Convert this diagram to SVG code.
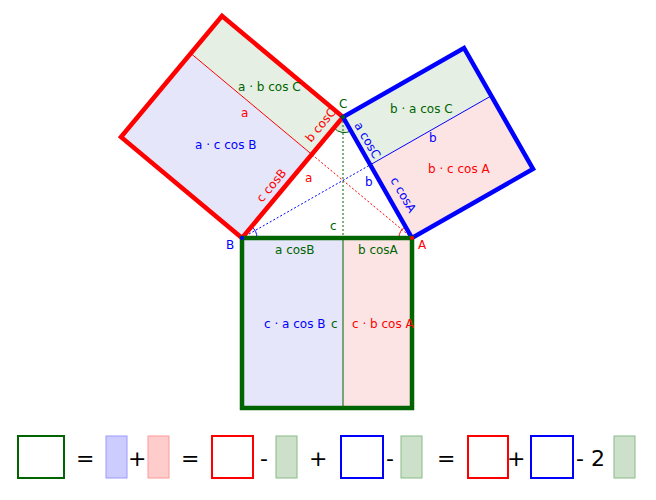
<svg xmlns="http://www.w3.org/2000/svg" width="656" height="500" viewBox="0 0 656 500">
<style>
text{font-family:"DejaVu Sans",sans-serif;font-size:12px}
.r{fill:#f00}.b{fill:#00f}.g{fill:#006400}.k{fill:#000;font-size:22px}
.thick{fill:none;stroke-width:4.5;stroke-linejoin:miter}
</style>
<rect width="656" height="500" fill="#fff"/>
<g id="fills">
<polygon points="242,238 311.8,154.4 190.8,53.4 121,137" fill="#e6e6fa"/>
<polygon points="311.8,154.4 343,117 222,16 190.8,53.4" fill="#e6efe4"/>
<polygon points="343,117 370.3,164.8 491.3,95.8 464,48" fill="#e6efe4"/>
<polygon points="370.3,164.8 412,238 533,169 491.3,95.8" fill="#fde4e4"/>
<rect x="242" y="238" width="101" height="170" fill="#e6e6fa"/>
<rect x="343" y="238" width="69" height="170" fill="#fde4e4"/>
<path d="M343,117 L334,128 A14,14 0 0 0 351,131 Z" fill="#dde8da"/>
</g>
<g id="connectors">
<line x1="311.8" y1="154.4" x2="190.8" y2="53.4" stroke="#f00" stroke-width="1"/>
<line x1="370.3" y1="164.8" x2="491.3" y2="95.8" stroke="#00f" stroke-width="1"/>
<line x1="343" y1="238" x2="343" y2="408" stroke="#006400" stroke-width="1"/>
<line x1="412" y1="238" x2="311.8" y2="154.4" stroke="#f00" stroke-width="1" stroke-dasharray="2,2"/>
<line x1="242" y1="238" x2="370.3" y2="164.8" stroke="#00f" stroke-width="1" stroke-dasharray="2,2"/>
<line x1="343" y1="117" x2="343" y2="238" stroke="#006400" stroke-width="1" stroke-dasharray="2,2"/>
<path d="M257,238 A15,15 0 0 0 251.6,226.5" fill="none" stroke="#00f"/>
<path d="M399,238 A13,13 0 0 1 405.5,226.7" fill="none" stroke="#f00"/>
<path d="M334,128 A14,14 0 0 0 351,131" fill="none" stroke="#006400"/>
</g>
<g id="squareRed"><polygon class="thick" points="242,238 343,117 222,16 121,137" stroke="#f00"/></g>
<g id="squareBlue"><polygon class="thick" points="343,117 412,238 533,169 464,48" stroke="#00f"/></g>
<g id="squareGreen"><rect class="thick" x="242" y="238" width="170" height="170" stroke="#006400"/></g>
<g id="vertices">
<circle cx="242" cy="238" r="2" fill="#00f"/>
<circle cx="412" cy="238" r="2" fill="#f00"/>
<circle cx="343" cy="117" r="2" fill="#006400"/>
</g>
<g id="labels">
<text class="g" x="238" y="91">a · b cos C</text>
<text class="r" x="241" y="117">a</text>
<text class="b" x="195" y="149">a · c cos B</text>
<text class="r" transform="translate(311,143) rotate(-50)">b cosC</text>
<text class="r" transform="translate(262,203) rotate(-50)">c cosB</text>
<text class="r" x="305" y="182">a</text>
<text class="g" x="339" y="108">C</text>
<text class="b" x="226" y="249">B</text>
<text class="r" x="418" y="249">A</text>
<text class="g" x="330" y="230">c</text>
<text class="g" x="390" y="113">b · a cos C</text>
<text class="b" x="429" y="142">b</text>
<text class="r" x="428" y="173">b · c cos A</text>
<text class="b" x="365" y="186">b</text>
<text class="b" transform="translate(354,125) rotate(60)">a cosC</text>
<text class="b" transform="translate(390,180) rotate(60)">c cosA</text>
<text class="g" x="275" y="254">a cosB</text>
<text class="g" x="358" y="254">b cosA</text>
<text class="b" x="264" y="328">c · a cos B</text>
<text class="g" x="331" y="328">c</text>
<text class="r" x="352" y="328">c · b cos A</text>
</g>
<g id="equation">
<rect x="18" y="436" width="46" height="42" fill="none" stroke="#006400" stroke-width="2"/>
<text class="k" x="76" y="466">=</text>
<rect x="106" y="436" width="21" height="42" fill="#ccf" stroke="#99f" stroke-width="1"/>
<text class="k" x="128" y="466">+</text>
<rect x="148" y="436" width="21" height="42" fill="#fcc" stroke="#f99" stroke-width="1"/>
<text class="k" x="181" y="466">=</text>
<rect x="212" y="436" width="41" height="42" fill="none" stroke="#f00" stroke-width="2"/>
<text class="k" x="260" y="466">-</text>
<rect x="276" y="436" width="21" height="42" fill="#cde0ca" stroke="#8b8" stroke-width="1"/>
<text class="k" x="309" y="466">+</text>
<rect x="341" y="436" width="42" height="42" fill="none" stroke="#00f" stroke-width="2"/>
<text class="k" x="386" y="466">-</text>
<rect x="401" y="436" width="21" height="42" fill="#cde0ca" stroke="#8b8" stroke-width="1"/>
<text class="k" x="437" y="466">=</text>
<rect x="468" y="436" width="40" height="42" fill="none" stroke="#f00" stroke-width="2"/>
<text class="k" x="507" y="466">+</text>
<rect x="531" y="436" width="42" height="42" fill="none" stroke="#00f" stroke-width="2"/>
<text class="k" x="576" y="466">- 2</text>
<rect x="614" y="436" width="21" height="42" fill="#cde0ca" stroke="#8b8" stroke-width="1"/>
</g>
</svg>
